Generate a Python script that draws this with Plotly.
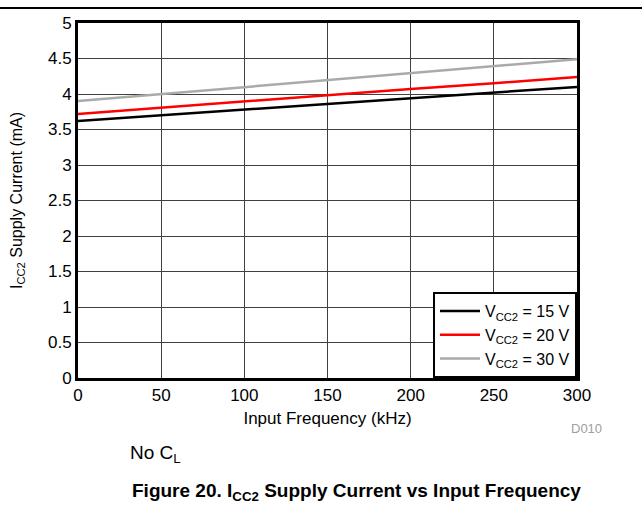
import plotly.graph_objects as go

freq_khz = [0, 50, 100, 150, 200, 250, 300]
icc2_15v = [3.62, 3.70, 3.78, 3.86, 3.94, 4.02, 4.10]
icc2_20v = [3.72, 3.81, 3.89, 3.98, 4.07, 4.15, 4.24]
icc2_30v = [3.90, 4.00, 4.10, 4.20, 4.29, 4.39, 4.49]
series_names = ["V<sub>CC2</sub> = 15 V", "V<sub>CC2</sub> = 20 V", "V<sub>CC2</sub> = 30 V"]
series_colors = ["#000000", "#ff0000", "#aaaaaa"]

fig = go.Figure()
for name, vals, col in zip(series_names, [icc2_15v, icc2_20v, icc2_30v], series_colors):
    fig.add_trace(go.Scatter(x=freq_khz, y=vals, mode="lines", name=name,
                             line=dict(color=col, width=2.5)))

font_family = "Liberation Sans, Arial, sans-serif"
fig.update_layout(
    width=642, height=514,
    margin=dict(l=78, r=65, t=23, b=136),
    paper_bgcolor="white", plot_bgcolor="white",
    font=dict(family=font_family, size=17, color="black"),
    showlegend=True,
    legend=dict(x=1, y=0, xanchor="right", yanchor="bottom",
                bordercolor="black", borderwidth=2, bgcolor="white",
                font=dict(size=16), tracegroupgap=0, itemwidth=40),
    xaxis=dict(range=[0, 300], dtick=50, tick0=0, showgrid=True,
               gridcolor="#404040", gridwidth=1, showline=True, linecolor="black",
               linewidth=3, mirror=True, ticks="", zeroline=False,
               tickfont=dict(size=17),
               title=dict(text="Input Frequency (kHz)", font=dict(size=17), standoff=8)),
    yaxis=dict(range=[0, 5], dtick=0.5, tick0=0, showgrid=True,
               gridcolor="#404040", gridwidth=1, showline=True, linecolor="black",
               linewidth=3, mirror=True, ticks="", zeroline=False,
               tickfont=dict(size=17),
               title=dict(text="I<sub>CC2</sub> Supply Current (mA)", font=dict(size=16), standoff=22)),
)

fig.add_shape(type="line", xref="paper", yref="paper",
              x0=-0.16, x1=1.14, y0=1.042, y1=1.042,
              line=dict(color="black", width=2))

fig.add_annotation(text="D010", xref="paper", yref="paper", x=1.02, y=-0.141,
                   xanchor="center", yanchor="middle",
                   showarrow=False, font=dict(size=13, color="#a0a0a0"))
fig.add_annotation(text="No C<sub>L</sub>", xref="paper", yref="paper", x=0.156, y=-0.215,
                   xanchor="center", yanchor="middle",
                   showarrow=False, font=dict(size=19))
fig.add_annotation(text="<b>Figure 20. I<sub>CC2</sub> Supply Current vs Input Frequency</b>",
                   xref="paper", yref="paper", x=0.559, y=-0.321,
                   xanchor="center", yanchor="middle",
                   showarrow=False, font=dict(size=19))

fig.write_html("out.html", config={"displayModeBar": False},
               post_script="document.body.style.margin='0';")
